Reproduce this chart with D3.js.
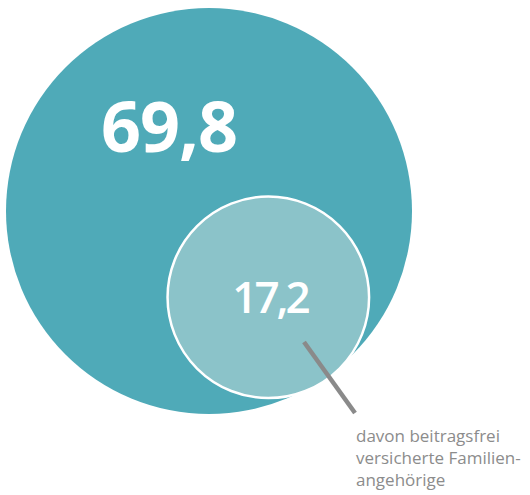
<!DOCTYPE html>
<html>
<head>
<meta charset="utf-8">
<script src="https://cdn.jsdelivr.net/npm/d3@7"></script>
<style>
  body { margin: 0; background: #fff; }
  svg { display: block; }
</style>
</head>
<body>
<div id="chart"></div>
<script>
// values (Mio. Versicherte)
const names = ["Versicherte gesamt", "davon beitragsfrei versicherte Familienangehörige"];
const values = [69.8, 17.2];
const valueLabels = ["69,8", "17,2"];
const noteLines = ["davon beitragsfrei", "versicherte Familien-", "angehörige"];

const colors = ["#4faab8", "#8bc3c9"];

const width = 530,
    height = 495;

const svg = d3.select("#chart")
    .append("svg")
    .attr("width", width)
    .attr("height", height);

// circle area proportional to value
const r = d3.scaleSqrt()
    .domain([0, d3.max(values)])
    .range([0, 203]);

const bigCx = 209, bigCy = 211;
const angle = 55.5 * Math.PI / 180;
const gap = 2.5;

const rBig = r(values[0]), rSmall = r(values[1]);
const dist = rBig - rSmall + gap;
const centers = [
    [bigCx, bigCy],
    [bigCx + dist * Math.cos(angle), bigCy + dist * Math.sin(angle)]
];

svg.append("g")
    .selectAll("circle")
    .data(values)
    .join("circle")
    .attr("cx", (d, i) => centers[i][0])
    .attr("cy", (d, i) => centers[i][1])
    .attr("r", d => r(d))
    .attr("fill", (d, i) => colors[i])
    .attr("stroke", (d, i) => i ? "#fff" : "none")
    .attr("stroke-width", 2.5);

// value labels
svg.append("text")
    .attr("x", 169)
    .attr("y", 152)
    .attr("text-anchor", "middle")
    .attr("fill", "#fff")
    .attr("font-family", "'Open Sans', sans-serif")
    .attr("font-weight", 700)
    .attr("font-size", 70)
    .attr("letter-spacing", -1)
    .text(valueLabels[0]);

svg.append("text")
    .attr("x", 270)
    .attr("y", 313)
    .attr("text-anchor", "middle")
    .attr("fill", "#fff")
    .attr("font-family", "'Open Sans', sans-serif")
    .attr("font-weight", 600)
    .attr("font-size", 44)
    .attr("letter-spacing", -3)
    .text(valueLabels[1]);

// leader line
svg.append("line")
    .attr("x1", 304).attr("y1", 342)
    .attr("x2", 355).attr("y2", 413)
    .attr("stroke", "#8a8a8a")
    .attr("stroke-width", 4.5);

svg.append("g")
    .attr("font-family", "'Open Sans', sans-serif")
    .attr("font-size", 17)
    .attr("fill", "#8c8c8c")
    .selectAll("text")
    .data(noteLines)
    .join("text")
    .attr("x", 356)
    .attr("y", (d, i) => 442 + i * 22)
    .text(d => d);
</script>
</body>
</html>
